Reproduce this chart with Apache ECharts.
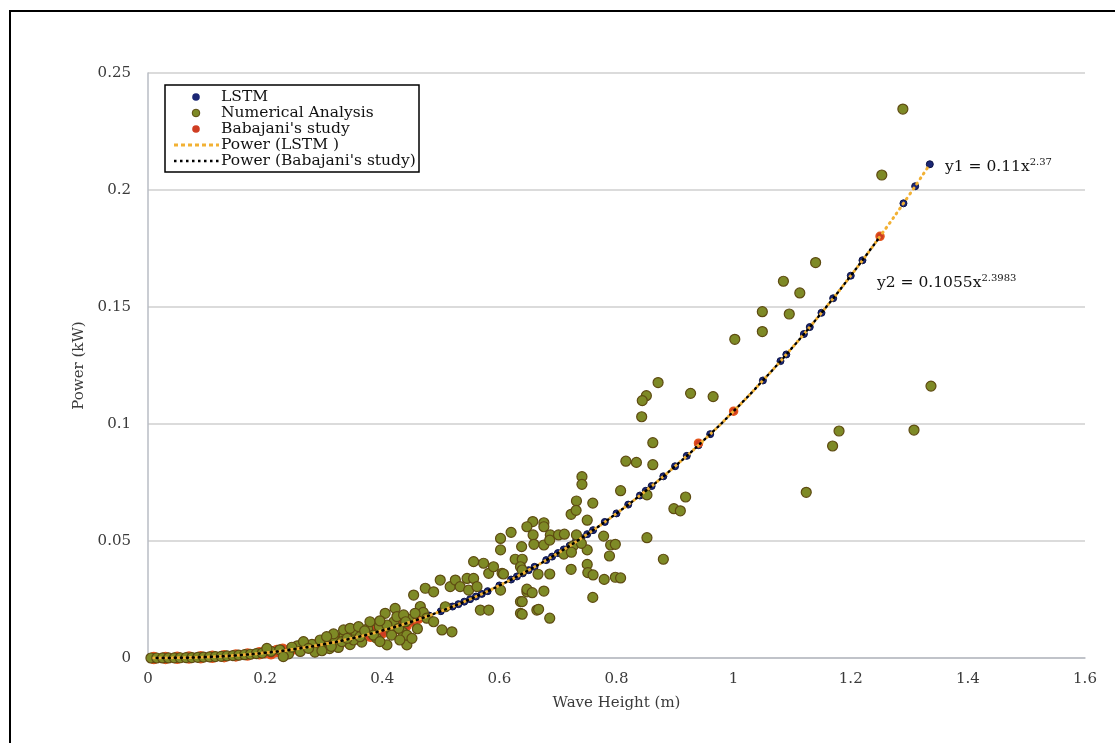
<!DOCTYPE html>
<html>
<head>
<meta charset="utf-8">
<script src="https://cdn.jsdelivr.net/npm/echarts@6/dist/echarts.min.js"></script>
<style>html,body{margin:0;padding:0;background:#fff}#c{width:1115px;height:743px}</style>
</head>
<body>
<div id="c"></div>
<script>
// ---------------- data ----------------
var xTicks = [0, 0.2, 0.4, 0.6, 0.8, 1, 1.2, 1.4, 1.6];
var yTicks = [0, 0.05, 0.1, 0.15, 0.2, 0.25];

var lstm = [
[0.02,0.00001],[0.05,0.00008],[0.08,0.00025],[0.1,0.00042],[0.13,0.00079],[0.16,0.0013],[0.19,0.00197],
[0.22,0.00279],[0.25,0.0038],[0.28,0.00498],[0.31,0.00636],[0.34,0.00794],[0.37,0.00972],[0.4,0.01172],
[0.43,0.01394],[0.45,0.01554],[0.46,0.01639],[0.48,0.01815],[0.5,0.02001],[0.52,0.02199],[0.53,0.02301],
[0.54,0.02407],[0.55,0.02515],[0.56,0.02626],[0.57,0.0274],[0.58,0.02857],[0.6,0.03099],[0.62,0.03353],
[0.63,0.03484],[0.64,0.03618],[0.65,0.03754],[0.66,0.03895],[0.68,0.04183],[0.69,0.04333],[0.7,0.04485],
[0.71,0.0464],[0.72,0.04798],[0.73,0.0496],[0.74,0.05124],[0.75,0.05292],[0.76,0.05463],[0.78,0.05814],
[0.8,0.06179],[0.82,0.06555],[0.84,0.06944],[0.85,0.07145],[0.86,0.07348],[0.88,0.07764],[0.9,0.08194],
[0.92,0.08638],[0.94,0.09095],[0.96,0.09566],[1.0,0.1055],[1.05,0.1186],[1.08,0.12688],[1.09,0.12972],
[1.12,0.13845],[1.13,0.14143],[1.15,0.14751],[1.17,0.15373],[1.2,0.16337],[1.22,0.16997],[1.25,0.18017],
[1.29,0.1943],[1.31,0.2016],[1.335,0.211]
];

var babajani = [
[0.01,0.000002],[0.03,0.00003],[0.05,0.00008],[0.07,0.00018],[0.09,0.00033],[0.11,0.00054],[0.13,0.00079],
[0.15,0.0011],[0.17,0.0015],[0.19,0.002],[0.2,0.0025],[0.21,0.002],[0.22,0.003],[0.23,0.0035],[0.24,0.0028],
[0.25,0.0042],[0.26,0.0038],[0.27,0.005],[0.28,0.0045],[0.29,0.0058],[0.3,0.0052],[0.31,0.0068],[0.32,0.006],
[0.33,0.0078],[0.34,0.0072],[0.35,0.009],[0.36,0.0083],[0.37,0.0103],[0.38,0.0095],[0.39,0.0117],[0.4,0.011],
[0.41,0.0132],[0.42,0.0124],[0.43,0.0147],[0.44,0.014],[0.45,0.016],[0.46,0.017],[0.94,0.0918],[1.0,0.1055],
[1.25,0.1802]
];

var numerical = [
[0.005,0],[0.015,0.00001],[0.025,0.00002],[0.035,0.00003],[0.045,0.00006],[0.055,0.0001],[0.065,0.00015],
[0.075,0.0002],[0.085,0.00029],[0.095,0.00037],[0.105,0.00048],[0.115,0.0006],[0.125,0.0007],[0.135,0.0009],
[0.145,0.001],[0.155,0.0012],[0.165,0.0014],[0.175,0.0016],[0.185,0.0019],[0.195,0.0021],[0.21,0.0028],
[0.225,0.0035],[0.24,0.0018],[0.255,0.0052],[0.26,0.0028],[0.28,0.0058],[0.285,0.0025],[0.3,0.0065],
[0.31,0.004],[0.32,0.0073],[0.325,0.0045],[0.335,0.0095],[0.345,0.0057],[0.355,0.011],[0.365,0.0068],
[0.375,0.0125],[0.39,0.0085],[0.395,0.0135],[0.415,0.0115],[0.42,0.0155],[0.435,0.011],[0.445,0.0165],
[0.46,0.0125],[0.465,0.022],[0.47,0.0195],
[0.203,0.0041],[0.231,0.0006],[0.2456,0.0046],[0.2655,0.007],[0.274,0.0041],[0.294,0.0077],[0.297,0.0031],
[0.3168,0.0103],[0.331,0.007],[0.334,0.012],[0.345,0.0127],[0.3595,0.0134],[0.351,0.0077],[0.362,0.0091],
[0.379,0.0155],[0.385,0.0098],[0.405,0.0191],[0.408,0.0141],[0.408,0.0056],[0.422,0.0212],[0.425,0.0177],
[0.428,0.0127],[0.4365,0.0184],[0.442,0.0056],[0.442,0.0098],[0.4507,0.0084],[0.4536,0.0269],[0.456,0.0191],
[0.4735,0.0298],[0.476,0.017],[0.4877,0.0283],[0.4877,0.0155],[0.499,0.0333],[0.502,0.012],[0.5077,0.0219],
[0.516,0.0305],[0.519,0.0112],[0.5248,0.0333],[0.533,0.0305],[0.5448,0.034],[0.5475,0.029],[0.556,0.034],
[0.5618,0.0305],[0.5675,0.0205],[0.5818,0.0362],[0.5818,0.0205],[0.59,0.039],[0.6046,0.0362],[0.636,0.0241],
[0.636,0.0191],[0.647,0.0283],[0.664,0.0205],[0.556,0.0412],[0.573,0.0405],
[0.305,0.0091],[0.313,0.005],[0.34,0.0084],[0.37,0.0116],[0.396,0.0159],[0.396,0.007],[0.416,0.0098],
[0.43,0.0077],[0.44,0.0155],
[1.049,0.148],[1.095,0.147],[1.049,0.1395],[1.002,0.1362],[0.871,0.1177],[0.851,0.1121],[0.844,0.11],
[0.9265,0.1131],[0.965,0.1117],[0.843,0.1031],[0.862,0.092],[0.816,0.0841],[0.834,0.0836],[0.862,0.0826],
[0.918,0.0688],[0.898,0.0638],[0.909,0.0629],[0.852,0.0697],[0.807,0.0715],[0.741,0.0775],[0.741,0.0742],
[0.7316,0.0671],[0.7595,0.0662],[0.7225,0.0614],[0.731,0.0631],[0.75,0.0589],[0.676,0.0578],[0.657,0.0583],
[0.676,0.0561],[0.647,0.0561],[0.62,0.0537],[0.602,0.0511],[0.687,0.0526],[0.701,0.0526],[0.711,0.0529],
[0.6576,0.0526],[0.659,0.0486],[0.676,0.0483],[0.686,0.0504],[0.7316,0.0526],[0.778,0.0521],[0.75,0.0462],
[0.726,0.0479],[0.74,0.049],[0.79,0.0483],[0.798,0.0486],[0.852,0.0514],[0.788,0.0436],[0.88,0.0422],
[0.638,0.0476],[0.602,0.0462],[0.627,0.0422],[0.639,0.0422],[0.71,0.0444],[0.723,0.0452],[0.607,0.0359],
[0.602,0.029],[0.636,0.039],[0.639,0.0376],[0.666,0.0358],[0.686,0.0359],[0.7225,0.0379],[0.75,0.04],
[0.751,0.0365],[0.76,0.0355],[0.779,0.0336],[0.798,0.0345],[0.807,0.0342],[0.647,0.0294],[0.656,0.0279],
[0.676,0.0286],[0.639,0.0241],[0.667,0.0208],[0.639,0.0187],[0.686,0.017],[0.7595,0.0259],
[1.289,0.2346],[1.253,0.2064],[1.14,0.169],[1.085,0.161],[1.113,0.156],[1.337,0.1162],[1.308,0.0974],
[1.18,0.097],[1.169,0.0906],[1.124,0.0708]
];

var trendX = [0.01,0.05,0.1,0.15,0.2,0.25,0.3,0.35,0.4,0.45,0.5,0.55,0.6,0.65,0.7,0.75,0.8,0.85,0.9,0.95,1.0,1.05,1.1,1.15,1.2,1.25,1.3,1.335];
var trendLstmY = [0.000002,0.00008,0.00042,0.00112,0.00222,0.0038,0.00588,0.00851,0.01172,0.01554,0.02001,0.02515,0.03099,0.03754,0.04485,0.05292,0.06179,0.07145,0.08194,0.09329,0.1055,0.1186,0.13259,0.14751,0.16337,0.18017,0.19793,0.211];
var trendBabY = [0.000002,0.00008,0.00042,0.00112,0.00222,0.0038,0.00588,0.00851,0.01172,0.01554,0.02001,0.02515,0.03099,0.03754,0.04485,0.05292,0.06179,0.07145,0.08194,0.09329,0.1055,0.1186,0.13259,0.14751,0.16337,0.18017];

var legendNames = ['LSTM', 'Numerical Analysis', "Babajani's study", 'Power (LSTM )', "Power (Babajani's study)"];
var eq1 = ['y1 = 0.11x', '2.37'];
var eq2 = ['y2 = 0.1055x', '2.3983'];

// ---------------- chart ----------------
var FONT = 'DejaVu Serif';
var TXT = '#3a3a3a';
var C_LSTM = '#1b2775', C_NUM = '#7e8a26', C_BAB = '#cf3d22', C_OR = '#f2b134';

function zip(xs, ys) { return ys.map(function (y, i) { return [xs[i], y]; }); }

var chart = echarts.init(document.getElementById('c'), null, { renderer: 'canvas' });

var legendRows = [97, 113, 129, 145, 161];
var legendGraphics = [
  { type: 'rect', z: 100, shape: { x: 165, y: 85, width: 254, height: 87 },
    style: { fill: '#fff', stroke: '#000', lineWidth: 1.5 } },
  { type: 'circle', z: 101, shape: { cx: 196, cy: legendRows[0], r: 3.8 }, style: { fill: C_LSTM } },
  { type: 'circle', z: 101, shape: { cx: 196, cy: legendRows[1], r: 3.8 }, style: { fill: C_NUM, stroke: '#5a4a10', lineWidth: 1 } },
  { type: 'circle', z: 101, shape: { cx: 196, cy: legendRows[2], r: 3.8 }, style: { fill: C_BAB } },
  { type: 'line', z: 101, shape: { x1: 174, y1: legendRows[3], x2: 219, y2: legendRows[3] },
    style: { stroke: C_OR, lineWidth: 3, lineDash: [4, 3] } },
  { type: 'line', z: 101, shape: { x1: 174, y1: legendRows[4], x2: 219, y2: legendRows[4] },
    style: { stroke: '#000', lineWidth: 2.5, lineDash: [2.5, 3.5] } }
];
legendNames.forEach(function (n, i) {
  legendGraphics.push({ type: 'text', z: 101, x: 221, y: legendRows[i],
    style: { text: n, font: '15.5px "' + FONT + '"', fill: '#111', verticalAlign: 'middle', align: 'left' } });
});

function eqText(parts, x, y) {
  return { type: 'text', z: 50, x: x, y: y,
    style: { text: '{a|' + parts[0] + '}{s|' + parts[1] + '}', verticalAlign: 'middle', align: 'left',
      rich: {
        a: { fontFamily: FONT, fontSize: 15.5, fill: '#111', lineHeight: 20 },
        s: { fontFamily: FONT, fontSize: 10, fill: '#111', lineHeight: 12, verticalAlign: 'top' }
      } } };
}

var option = {
  animation: false,
  backgroundColor: '#fff',
  grid: { left: 148, right: 30, top: 73, bottom: 85, containLabel: false },
  xAxis: {
    type: 'value', min: xTicks[0], max: xTicks[xTicks.length - 1], interval: 0.2,
    name: 'Wave Height (m)', nameLocation: 'middle', nameGap: 38,
    nameTextStyle: { fontFamily: FONT, fontSize: 15, color: TXT },
    axisLine: { show: true, lineStyle: { color: '#b8bcc4', width: 1.5 } },
    axisTick: { show: false },
    splitLine: { show: false },
    axisLabel: { fontFamily: FONT, fontSize: 15, color: TXT, margin: 14 }
  },
  yAxis: {
    type: 'value', min: yTicks[0], max: yTicks[yTicks.length - 1], interval: 0.05,
    name: 'Power (kW)', nameLocation: 'middle', nameGap: 57, nameRotate: 90,
    nameTextStyle: { fontFamily: FONT, fontSize: 15, color: TXT },
    axisLine: { show: true, lineStyle: { color: '#b8bcc4', width: 1.5 } },
    axisTick: { show: false },
    splitLine: { show: true, lineStyle: { color: '#cfcfcf', width: 1.5 } },
    axisLabel: { fontFamily: FONT, fontSize: 15, color: TXT, margin: 17 }
  },
  series: [
    { name: legendNames[0], type: 'scatter', data: lstm, symbolSize: 7,
      itemStyle: { color: C_LSTM, borderColor: '#0d1445', borderWidth: 1, opacity: 1 } },
    { name: legendNames[2], type: 'scatter', data: babajani,
      symbolSize: function (v) { return v[0] > 0.5 ? 8 : 11; },
      itemStyle: { color: C_BAB, borderColor: '#e4551c', borderWidth: 1.5, opacity: 1 } },
    { name: legendNames[1], type: 'scatter', data: numerical, symbolSize: 10,
      itemStyle: { color: C_NUM, borderColor: '#5e4b12', borderWidth: 1.2, opacity: 1 } },
    { name: legendNames[3], type: 'line', data: zip(trendX, trendLstmY), showSymbol: false, symbol: 'none',
      smooth: true, z: 5,
      lineStyle: { color: C_OR, width: 3, type: [1, 5], cap: 'round' } },
    { name: legendNames[4], type: 'line', data: zip(trendX.slice(0, trendBabY.length), trendBabY), showSymbol: false,
      symbol: 'none', smooth: true, z: 6,
      lineStyle: { color: '#000', width: 2.5, type: [1, 5], dashOffset: 3, cap: 'round' } }
  ],
  graphic: [
    { type: 'rect', z: 200, silent: true, shape: { x: 10, y: 11, width: 1200, height: 800 },
      style: { fill: 'none', stroke: '#000', lineWidth: 2 } },
    eqText(eq1, 945, 167),
    eqText(eq2, 877, 283)
  ].concat(legendGraphics)
};
chart.setOption(option);
</script>
</body>
</html>
